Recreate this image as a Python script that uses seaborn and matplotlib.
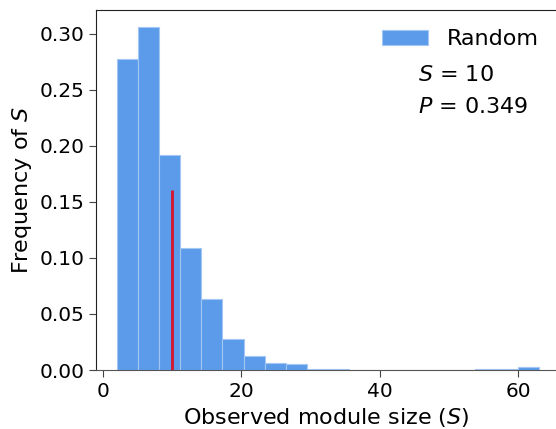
import numpy as np
import pandas as pd
import matplotlib
matplotlib.use("Agg")
import matplotlib.pyplot as plt
import seaborn as sns

# histogram of module sizes from the random networks (fraction per bin)
bin_edges = list(np.linspace(2, 63, 21))
freq = [0.278, 0.306, 0.192, 0.109, 0.063, 0.028, 0.0125, 0.0065, 0.0055, 0.0013,
        0.0013, 0.0, 0.0, 0.0, 0.0, 0.0, 0.0, 0.0008, 0.0008, 0.0024]
observed_S = 10
observed_height = 0.161
p_value = 0.349

centers = [(a + b) / 2 for a, b in zip(bin_edges[:-1], bin_edges[1:])]
df = pd.DataFrame({"size": centers, "freq": freq})

sns.set_style("ticks")
plt.rcParams['font.family'] = ['DejaVu Sans']
plt.rcParams['text.color'] = 'black'
plt.rcParams['axes.labelcolor'] = 'black'
plt.rcParams['xtick.color'] = 'black'
plt.rcParams['ytick.color'] = 'black'

fig = plt.figure(figsize=(5.56, 4.29), dpi=100)
ax = fig.add_axes([96 / 556, 59 / 429, 1 - 96 / 556, 360 / 429])

sns.histplot(data=df, x="size", weights="freq", bins=bin_edges, ax=ax,
             color="#5b9bea", alpha=1, edgecolor="#a3c6f3", linewidth=0.8,
             label="Random")

# observed value
ax.vlines(observed_S, 0, observed_height, color="#d8142a", linewidth=2)

ax.set_xlim(-1.05, 65.5)
ax.set_ylim(0, 0.3214)
ax.set_yticks([0, 0.05, 0.10, 0.15, 0.20, 0.25, 0.30])
ax.set_yticklabels(["0.00", "0.05", "0.10", "0.15", "0.20", "0.25", "0.30"])
ax.set_xticks([0, 20, 40, 60])
ax.tick_params(labelsize=14.5, length=5)
ax.tick_params(color="#444444")

ax.set_xlabel("Observed module size ($S$)", fontsize=16)
ax.set_ylabel("Frequency of $S$", fontsize=16)

ax.spines["right"].set_visible(False)
ax.spines["left"].set_color("#222222")
ax.spines["top"].set_color("#222222")
ax.spines["bottom"].set_color("#555555")

ax.legend(loc="upper left", frameon=False, fontsize=16,
          bbox_to_anchor=(0.622, 0.947), borderaxespad=0, borderpad=0,
          handlelength=2.07, handletextpad=0.85)
ax.text(0.70, 0.819, "$S$ = %d" % observed_S, transform=ax.transAxes,
        fontsize=16, va="center")
ax.text(0.70, 0.730, "$P$ = %.3f" % p_value, transform=ax.transAxes,
        fontsize=16, va="center")

fig.savefig("out.png", dpi=100)
